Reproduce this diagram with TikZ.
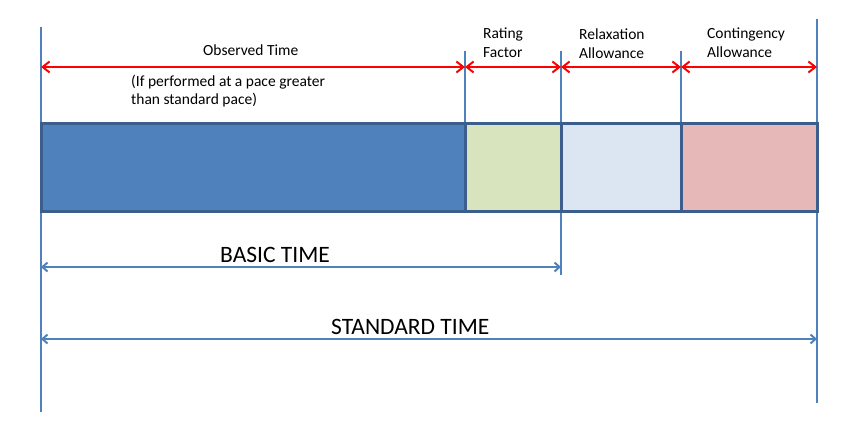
\documentclass[tikz,border=0pt]{standalone}
\usepackage{fontspec}
\setmainfont{Carlito}
\usetikzlibrary{arrows.meta}

\definecolor{guideblue}{HTML}{4F81BD}
\definecolor{barline}{HTML}{3B5E8C}
\definecolor{obsfill}{HTML}{4F81BD}
\definecolor{ratefill}{HTML}{D7E4BD}
\definecolor{relaxfill}{HTML}{DCE6F2}
\definecolor{contfill}{HTML}{E6B9B8}

\tikzset{
  guide/.style={draw=guideblue,line width=1.6pt},
  seg/.style={draw=barline,line width=3pt},
  redspan/.style={draw=red,line width=2pt,
    {Straight Barb[length=7pt,width=11pt]}-{Straight Barb[length=7pt,width=11pt]}},
  bluespan/.style={draw=guideblue,line width=2pt,
    {Straight Barb[length=5pt,width=9pt]}-{Straight Barb[length=5pt,width=9pt]}},
  small/.style={font=\fontsize{15.5}{18.5}\selectfont,align=left,inner sep=0pt,anchor=west},
  big/.style={font=\fontsize{23.5}{26}\selectfont,inner sep=0pt,anchor=west}
}

\begin{document}
\begin{tikzpicture}[x=1pt,y=-1pt]
\useasboundingbox (0,0) rectangle (848,445);

% guide lines
\draw[guide] (41,27) -- (41,412);
\draw[guide] (465,51) -- (465,123);
\draw[guide] (561,51) -- (561,275);
\draw[guide] (681,51) -- (681,123);
\draw[guide] (817,19) -- (817,403);

% bar
\draw[seg,fill=obsfill] (41,123) rectangle (465,211);
\draw[seg,fill=ratefill] (465,123) rectangle (561,211);
\draw[seg,fill=relaxfill] (561,123) rectangle (681,211);
\draw[seg,fill=contfill] (681,123) rectangle (817,211);

% span ends
\coordinate (r0) at (41,67);
\coordinate (r1) at (465,67);
\coordinate (r2) at (561,67);
\coordinate (r3) at (681,67);
\coordinate (r4) at (817,67);
\coordinate (b0) at (41,267);
\coordinate (b1) at (561,267);
\coordinate (s0) at (41,339);
\coordinate (s1) at (817,339);

\draw[redspan] (r0) -- (r1);
\draw[redspan] (r1) -- (r2);
\draw[redspan] (r2) -- (r3);
\draw[redspan] (r3) -- (r4);
\draw[bluespan] (b0) -- (b1);
\draw[bluespan] (s0) -- (s1);

% labels
\node[small] (obs) at (203,50) {Observed Time};
\node[small] (pace) at (131,91) {(If performed at a pace greater\\than standard pace)};
\node[small] (rate) at (483,42.5) {Rating\\Factor};
\node[small] (relax) at (579,43.5) {Relaxation\\Allowance};
\node[small] (cont) at (707,42.5) {Contingency\\Allowance};
\node[big] (basic) at (220,255) {BASIC TIME};
\node[big] (std) at (331,327) {STANDARD TIME};
\end{tikzpicture}
\end{document}
